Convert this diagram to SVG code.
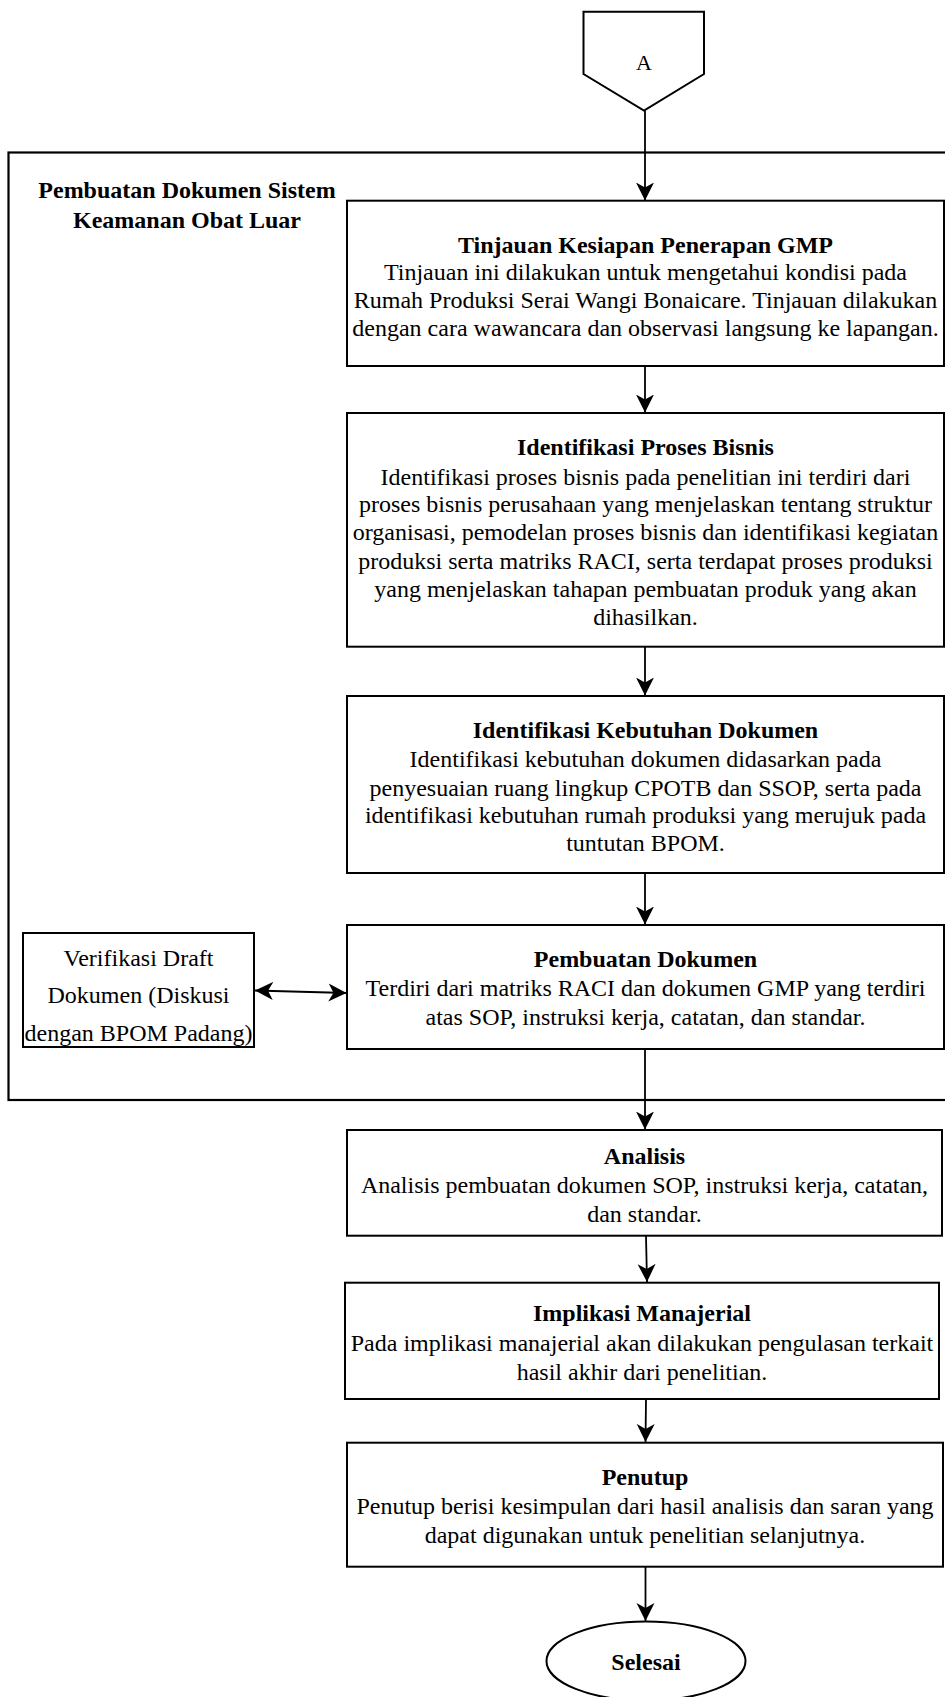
<svg xmlns="http://www.w3.org/2000/svg" width="945" height="1697" viewBox="0 0 945 1697">
<style>
.box{fill:#fff;stroke:#000;stroke-width:2}
.frame{fill:none;stroke:#000;stroke-width:2.2}
.t{font-family:"Liberation Serif","Times New Roman",serif;font-size:24px;fill:#000;text-anchor:middle}
.b{font-weight:bold}
.c{fill:none;stroke:#000;stroke-width:1.8}
</style>
<defs>
<marker id="ah" viewBox="0 0 20 20" refX="18" refY="10" markerWidth="20" markerHeight="20" markerUnits="userSpaceOnUse" orient="auto-start-reverse">
<path d="M0,1 L18,10 L0,19 L5,10 z" fill="#000"/>
</marker>
</defs>
<rect width="945" height="1697" fill="#fff"/>
<g id="container">
<rect class="frame" x="8.5" y="152.5" width="960" height="947.5"/>
<text class="t b" x="187" y="198">Pembuatan Dokumen Sistem</text>
<text class="t b" x="187" y="228">Keamanan Obat Luar</text>
</g>
<g id="connectors">
<line class="c" x1="645" y1="110.7" x2="645" y2="200.5" marker-end="url(#ah)"/>
<line class="c" x1="645" y1="366" x2="645" y2="412.5" marker-end="url(#ah)"/>
<line class="c" x1="645" y1="647" x2="645" y2="695.5" marker-end="url(#ah)"/>
<line class="c" x1="645" y1="873" x2="645" y2="924.5" marker-end="url(#ah)"/>
<line class="c" x1="645" y1="1049" x2="645" y2="1129.5" marker-end="url(#ah)"/>
<line class="c" x1="646" y1="1236" x2="647" y2="1282" marker-end="url(#ah)"/>
<line class="c" x1="646" y1="1399" x2="645.5" y2="1442" marker-end="url(#ah)"/>
<line class="c" x1="645.5" y1="1567" x2="645.5" y2="1621" marker-end="url(#ah)"/>
<line class="c" x1="255" y1="990.5" x2="346.5" y2="993" marker-start="url(#ah)" marker-end="url(#ah)"/>
</g>
<g id="nodeA">
<path class="box" d="M583.5,11.7 H704 V74 L644,110.7 L583.5,74 Z"/>
<text class="t" x="644" y="69.5" style="font-size:22px">A</text>
</g>
<g id="tinjauan">
<rect class="box" x="347" y="200.7" width="597" height="165.3"/>
<text class="t b" x="645.5" y="253">Tinjauan Kesiapan Penerapan GMP</text>
<text class="t" x="645.5" y="279.7">Tinjauan ini dilakukan untuk mengetahui kondisi pada</text>
<text class="t" x="645.5" y="308">Rumah Produksi Serai Wangi Bonaicare. Tinjauan dilakukan</text>
<text class="t" x="645.5" y="336.3">dengan cara wawancara dan observasi langsung ke lapangan.</text>
</g>
<g id="proses">
<rect class="box" x="347" y="413" width="597" height="233.7"/>
<text class="t b" x="645.5" y="454.7">Identifikasi Proses Bisnis</text>
<text class="t" x="645.5" y="484.7">Identifikasi proses bisnis pada penelitian ini terdiri dari</text>
<text class="t" x="645.5" y="512">proses bisnis perusahaan yang menjelaskan tentang struktur</text>
<text class="t" x="645.5" y="539.5">organisasi, pemodelan proses bisnis dan identifikasi kegiatan</text>
<text class="t" x="645.5" y="569">produksi serta matriks RACI, serta terdapat proses produksi</text>
<text class="t" x="645.5" y="597">yang menjelaskan tahapan pembuatan produk yang akan</text>
<text class="t" x="645.5" y="624.7">dihasilkan.</text>
</g>
<g id="kebutuhan">
<rect class="box" x="347" y="696" width="597" height="177"/>
<text class="t b" x="645.5" y="738">Identifikasi Kebutuhan Dokumen</text>
<text class="t" x="645.5" y="767">Identifikasi kebutuhan dokumen didasarkan pada</text>
<text class="t" x="645.5" y="795.7">penyesuaian ruang lingkup CPOTB dan SSOP, serta pada</text>
<text class="t" x="645.5" y="823">identifikasi kebutuhan rumah produksi yang merujuk pada</text>
<text class="t" x="645.5" y="851">tuntutan BPOM.</text>
</g>
<g id="pembuatan">
<rect class="box" x="347" y="925" width="597" height="124"/>
<text class="t b" x="645.5" y="967">Pembuatan Dokumen</text>
<text class="t" x="645.5" y="995.7">Terdiri dari matriks RACI dan dokumen GMP yang terdiri</text>
<text class="t" x="645.5" y="1024.7">atas SOP, instruksi kerja, catatan, dan standar.</text>
</g>
<g id="verifikasi">
<rect class="box" x="23" y="933" width="231" height="114"/>
<text class="t" x="138.5" y="965.7">Verifikasi Draft</text>
<text class="t" x="138.5" y="1003">Dokumen (Diskusi</text>
<text class="t" x="138.5" y="1041">dengan BPOM Padang)</text>
</g>
<g id="analisis">
<rect class="box" x="347" y="1130" width="595" height="105.7"/>
<text class="t b" x="644.5" y="1164">Analisis</text>
<text class="t" x="644.5" y="1193">Analisis pembuatan dokumen SOP, instruksi kerja, catatan,</text>
<text class="t" x="644.5" y="1222">dan standar.</text>
</g>
<g id="implikasi">
<rect class="box" x="345" y="1282.7" width="594" height="116.3"/>
<text class="t b" x="642" y="1321">Implikasi Manajerial</text>
<text class="t" x="642" y="1350.7">Pada implikasi manajerial akan dilakukan pengulasan terkait</text>
<text class="t" x="642" y="1379.7">hasil akhir dari penelitian.</text>
</g>
<g id="penutup">
<rect class="box" x="347" y="1442.7" width="596" height="124"/>
<text class="t b" x="645" y="1485">Penutup</text>
<text class="t" x="645" y="1514">Penutup berisi kesimpulan dari hasil analisis dan saran yang</text>
<text class="t" x="645" y="1543">dapat digunakan untuk penelitian selanjutnya.</text>
</g>
<g id="selesai">
<ellipse class="box" cx="646" cy="1661" rx="99.5" ry="39.5"/>
<text class="t b" x="646" y="1669.5">Selesai</text>
</g>
</svg>
